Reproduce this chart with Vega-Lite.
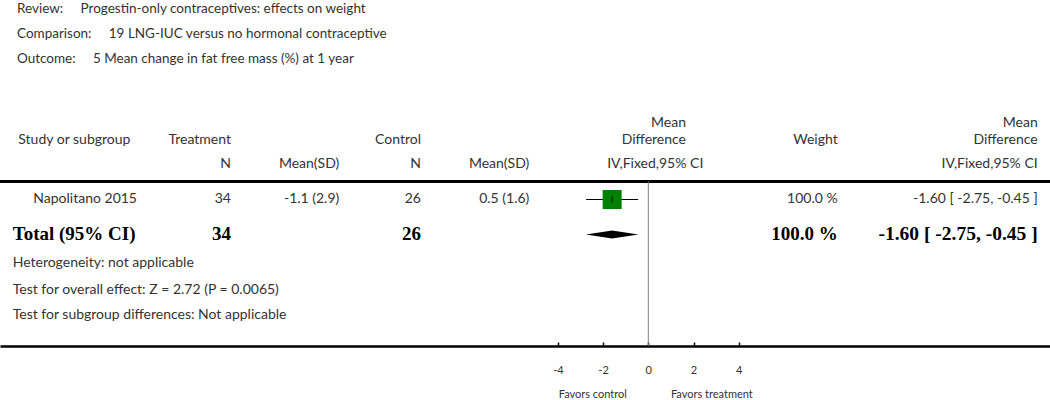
{
  "$schema": "https://vega.github.io/schema/vega-lite/v6.json",
  "width": 1050,
  "height": 266,
  "autosize": "none",
  "padding": {"left": 0, "right": 0, "top": 80, "bottom": 54},
  "background": "white",
  "config": {
    "view": {"stroke": null},
    "text": {"font": "Lato", "fontSize": 14, "color": "#333333", "baseline": "middle"},
    "axisX": {"grid": false, "domainColor": "black", "domainWidth": 2.5, "tickColor": "black", "tickWidth": 1.5, "labelFont": "Lato", "labelFontSize": 11, "labelColor": "#333333"}
  },
  "title": {
    "text": [
      "Review:\u00a0\u00a0\u00a0\u00a0 Progestin-only contraceptives: effects on weight",
      "Comparison:\u00a0\u00a0\u00a0\u00a0 19 LNG-IUC versus no hormonal contraceptive",
      "Outcome:\u00a0\u00a0\u00a0\u00a0 5 Mean change in fat free mass (%) at 1 year"
    ],
    "anchor": "start",
    "frame": "group",
    "font": "Lato",
    "fontSize": 13.5,
    "fontWeight": "normal",
    "color": "#333333",
    "lineHeight": 25,
    "dx": 17,
    "offset": 1,
    "baseline": "bottom"
  },
  "data": {
    "values": [
      {"kind": "study", "row": 1, "study": "Napolitano 2015", "tN": "34", "tMean": "-1.1 (2.9)", "cN": "26", "cMean": "0.5 (1.6)", "weight": "100.0 %", "md": -1.6, "lo": -2.75, "hi": -0.45, "mdText": "-1.60 [ -2.75, -0.45 ]"},
      {"kind": "total", "row": 2, "study": "Total (95% CI)", "tN": "34", "tMean": "", "cN": "26", "cMean": "", "weight": "100.0 %", "md": -1.6, "lo": -2.75, "hi": -0.45, "mdText": "-1.60 [ -2.75, -0.45 ]"}
    ]
  },
  "layer": [
    {
      "transform": [{"filter": "datum.kind == 'study'"}],
      "mark": {"type": "rule", "color": "black", "strokeWidth": 1},
      "encoding": {
        "x": {
          "field": "lo", "type": "quantitative",
          "scale": {"domain": [-28.686, 17.774], "nice": false, "zero": false},
          "axis": {
            "values": [-4, -2, 0, 2, 4], "title": null, "grid": false,
            "domainColor": "black", "domainWidth": 2.5,
            "tickColor": "black", "tickWidth": 1.5, "tickSize": -4,
            "labelFont": "Lato", "labelFontSize": 11, "labelColor": "#333333",
            "labelPadding": 22, "labelFlush": false, "labelOverlap": false,
            "labelExpr": "'' + datum.value"
          }
        },
        "x2": {"field": "hi"},
        "y": {"field": "row", "type": "quantitative", "scale": {"domain": [-2.414, 5.186], "reverse": true, "nice": false, "zero": false}, "axis": null}
      }
    },
    {
      "data": {"values": [{}]},
      "mark": {"type": "rule", "color": "black", "strokeWidth": 3},
      "encoding": {
        "y": {"datum": 0.486, "axis": null}
      }
    },
    {
      "data": {"values": [{}]},
      "mark": {"type": "rule", "color": "#808080", "strokeWidth": 1},
      "encoding": {
        "x": {"datum": 0},
        "y": {"datum": 0.486, "axis": null},
        "y2": {"datum": 5.186}
      }
    },
    {
      "transform": [{"filter": "datum.kind == 'study'"}],
      "mark": {"type": "point", "shape": "square", "filled": true, "color": "#008000", "opacity": 1, "size": 361},
      "encoding": {
        "x": {"field": "md", "type": "quantitative"},
        "y": {"field": "row", "type": "quantitative", "axis": null}
      }
    },
    {
      "transform": [{"filter": "datum.kind == 'study'"}],
      "mark": {"type": "tick", "orient": "vertical", "size": 6, "thickness": 1, "color": "black", "opacity": 1},
      "encoding": {
        "x": {"field": "md", "type": "quantitative"},
        "y": {"field": "row", "type": "quantitative", "axis": null}
      }
    },
    {
      "transform": [{"filter": "datum.kind == 'total'"}],
      "mark": {"type": "point", "shape": "M-1,0L0,-0.15L1,0L0,0.15Z", "filled": true, "color": "black", "opacity": 1, "size": 2760},
      "encoding": {
        "x": {"field": "md", "type": "quantitative"},
        "y": {"field": "row", "type": "quantitative", "axis": null}
      }
    },

    {"data": {"values": [{}]}, "mark": {"type": "text", "align": "right", "text": "Mean"},
     "encoding": {"x": {"datum": 1.668}, "y": {"datum": -1.177, "axis": null}}},
    {"data": {"values": [{}]}, "mark": {"type": "text", "align": "right", "text": "Mean"},
     "encoding": {"x": {"datum": 17.23}, "y": {"datum": -1.177, "axis": null}}},

    {"data": {"values": [{}]}, "mark": {"type": "text", "align": "left", "text": "Study or subgroup"},
     "encoding": {"x": {"datum": -27.876}, "y": {"datum": -0.71, "axis": null}}},
    {"data": {"values": [{}]}, "mark": {"type": "text", "align": "right", "text": "Treatment"},
     "encoding": {"x": {"datum": -18.465}, "y": {"datum": -0.71, "axis": null}}},
    {"data": {"values": [{}]}, "mark": {"type": "text", "align": "right", "text": "Control"},
     "encoding": {"x": {"datum": -10.058}, "y": {"datum": -0.71, "axis": null}}},
    {"data": {"values": [{}]}, "mark": {"type": "text", "align": "right", "text": "Difference"},
     "encoding": {"x": {"datum": 1.668}, "y": {"datum": -0.71, "axis": null}}},
    {"data": {"values": [{}]}, "mark": {"type": "text", "align": "right", "text": "Weight"},
     "encoding": {"x": {"datum": 8.381}, "y": {"datum": -0.71, "axis": null}}},
    {"data": {"values": [{}]}, "mark": {"type": "text", "align": "right", "text": "Difference"},
     "encoding": {"x": {"datum": 17.23}, "y": {"datum": -0.71, "axis": null}}},

    {"data": {"values": [{}]}, "mark": {"type": "text", "align": "right", "text": "N"},
     "encoding": {"x": {"datum": -18.465}, "y": {"datum": 0, "axis": null}}},
    {"data": {"values": [{}]}, "mark": {"type": "text", "align": "right", "text": "Mean(SD)"},
     "encoding": {"x": {"datum": -13.673}, "y": {"datum": 0, "axis": null}}},
    {"data": {"values": [{}]}, "mark": {"type": "text", "align": "right", "text": "N"},
     "encoding": {"x": {"datum": -10.058}, "y": {"datum": 0, "axis": null}}},
    {"data": {"values": [{}]}, "mark": {"type": "text", "align": "right", "text": "Mean(SD)"},
     "encoding": {"x": {"datum": -5.265}, "y": {"datum": 0, "axis": null}}},
    {"data": {"values": [{}]}, "mark": {"type": "text", "align": "right", "text": "IV,Fixed,95% CI"},
     "encoding": {"x": {"datum": 2.434}, "y": {"datum": 0, "axis": null}}},
    {"data": {"values": [{}]}, "mark": {"type": "text", "align": "right", "text": "IV,Fixed,95% CI"},
     "encoding": {"x": {"datum": 17.23}, "y": {"datum": 0, "axis": null}}},

    {"transform": [{"filter": "datum.kind == 'study'"}], "mark": {"type": "text", "align": "left"},
     "encoding": {"x": {"datum": -27.212}, "y": {"field": "row", "type": "quantitative", "axis": null}, "text": {"field": "study"}}},
    {"transform": [{"filter": "datum.kind == 'study'"}], "mark": {"type": "text", "align": "right"},
     "encoding": {"x": {"datum": -18.465}, "y": {"field": "row", "type": "quantitative", "axis": null}, "text": {"field": "tN"}}},
    {"transform": [{"filter": "datum.kind == 'study'"}], "mark": {"type": "text", "align": "right"},
     "encoding": {"x": {"datum": -13.673}, "y": {"field": "row", "type": "quantitative", "axis": null}, "text": {"field": "tMean"}}},
    {"transform": [{"filter": "datum.kind == 'study'"}], "mark": {"type": "text", "align": "right"},
     "encoding": {"x": {"datum": -10.058}, "y": {"field": "row", "type": "quantitative", "axis": null}, "text": {"field": "cN"}}},
    {"transform": [{"filter": "datum.kind == 'study'"}], "mark": {"type": "text", "align": "right"},
     "encoding": {"x": {"datum": -5.265}, "y": {"field": "row", "type": "quantitative", "axis": null}, "text": {"field": "cMean"}}},
    {"transform": [{"filter": "datum.kind == 'study'"}], "mark": {"type": "text", "align": "right"},
     "encoding": {"x": {"datum": 8.381}, "y": {"field": "row", "type": "quantitative", "axis": null}, "text": {"field": "weight"}}},
    {"transform": [{"filter": "datum.kind == 'study'"}], "mark": {"type": "text", "align": "right"},
     "encoding": {"x": {"datum": 17.23}, "y": {"field": "row", "type": "quantitative", "axis": null}, "text": {"field": "mdText"}}},

    {"transform": [{"filter": "datum.kind == 'total'"}], "mark": {"type": "text", "align": "left", "font": "Liberation Serif", "fontSize": 19, "fontWeight": "bold", "color": "black"},
     "encoding": {"x": {"datum": -28.124}, "y": {"field": "row", "type": "quantitative", "axis": null}, "text": {"field": "study"}}},
    {"transform": [{"filter": "datum.kind == 'total'"}], "mark": {"type": "text", "align": "right", "font": "Liberation Serif", "fontSize": 19, "fontWeight": "bold", "color": "black"},
     "encoding": {"x": {"datum": -18.465}, "y": {"field": "row", "type": "quantitative", "axis": null}, "text": {"field": "tN"}}},
    {"transform": [{"filter": "datum.kind == 'total'"}], "mark": {"type": "text", "align": "right", "font": "Liberation Serif", "fontSize": 19, "fontWeight": "bold", "color": "black"},
     "encoding": {"x": {"datum": -10.058}, "y": {"field": "row", "type": "quantitative", "axis": null}, "text": {"field": "cN"}}},
    {"transform": [{"filter": "datum.kind == 'total'"}], "mark": {"type": "text", "align": "right", "font": "Liberation Serif", "fontSize": 19, "fontWeight": "bold", "color": "black"},
     "encoding": {"x": {"datum": 8.381}, "y": {"field": "row", "type": "quantitative", "axis": null}, "text": {"field": "weight"}}},
    {"transform": [{"filter": "datum.kind == 'total'"}], "mark": {"type": "text", "align": "right", "font": "Liberation Serif", "fontSize": 19.5, "fontWeight": "bold", "color": "black"},
     "encoding": {"x": {"datum": 17.23}, "y": {"field": "row", "type": "quantitative", "axis": null}, "text": {"field": "mdText"}}},

    {"data": {"values": [{}]}, "mark": {"type": "text", "align": "left", "text": "Heterogeneity: not applicable"},
     "encoding": {"x": {"datum": -28.124}, "y": {"datum": 2.823, "axis": null}}},
    {"data": {"values": [{}]}, "mark": {"type": "text", "align": "left", "text": "Test for overall effect: Z = 2.72 (P = 0.0065)"},
     "encoding": {"x": {"datum": -28.124}, "y": {"datum": 3.586, "axis": null}}},
    {"data": {"values": [{}]}, "mark": {"type": "text", "align": "left", "text": "Test for subgroup differences: Not applicable"},
     "encoding": {"x": {"datum": -28.124}, "y": {"datum": 4.3, "axis": null}}},

    {"data": {"values": [{}]}, "mark": {"type": "text", "align": "right", "fontSize": 11, "text": "Favors control"},
     "encoding": {"x": {"datum": -0.95}, "y": {"datum": 6.586, "axis": null}}},
    {"data": {"values": [{}]}, "mark": {"type": "text", "align": "left", "fontSize": 11, "text": "Favors treatment"},
     "encoding": {"x": {"datum": 1.0}, "y": {"datum": 6.586, "axis": null}}}
  ]
}
